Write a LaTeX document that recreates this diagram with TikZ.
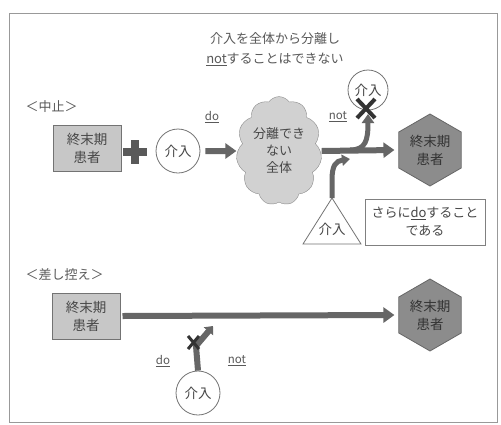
\documentclass[tikz,border=0pt]{standalone}
\usepackage{fontspec}
\setmainfont{Noto Sans CJK JP}
\usetikzlibrary{shapes.geometric,shapes.symbols,arrows.meta}
\begin{document}
\begin{tikzpicture}[x=1pt,y=-1pt,
  lbl/.style={text=black!65,font=\fontsize{11.5}{15}\selectfont,align=center},
  ttl/.style={text=black!65,font=\fontsize{13}{20}\selectfont,align=center},
  body/.style={text=black!72,font=\fontsize{13.5}{18}\selectfont,align=center},
  patbox/.style={body,draw=black!55,fill=black!22,line width=1pt,minimum width=68pt,minimum height=46pt,inner sep=1pt},
  hexa/.style={body,text=black!80,regular polygon,regular polygon sides=6,shape border rotate=30,minimum size=72pt,inner sep=0pt,draw=black!60,fill=black!45,line width=0.8pt},
  ring/.style={body,circle,draw=black!55,line width=0.8pt,minimum size=44pt,inner sep=0pt},
  bigarrow/.style={draw=black!60,line width=6pt,-{Triangle[width=15pt,length=11pt]}},
  midarrow/.style={draw=black!60,line width=5pt,-{Triangle[width=12pt,length=9pt]}},
  xmark/.style={draw=black!80,line width=4pt}
]
\useasboundingbox (0,0) rectangle (501,424);
\fill[white] (0,0) rectangle (501,424);
\draw[black!40,line width=1pt] (9,13) rectangle (497,422);

% title
\node[ttl] (title) at (275,49) {介入を全体から分離し\\\underline{not}することはできない};

% ---- upper part
\node[ttl,anchor=west] (stop) at (22,107) {＜中止＞};
\node[patbox] (p1) at (87,148) {終末期\\患者};
\draw[black!65,line width=8pt] (123,152) -- (147,152) (135,140) -- (135,164);
\node[ring] (c1) at (178,151) {介入};
\node[lbl] (do1) at (212,117) {\underline{do}};
\node[body,font=\fontsize{13}{17}\selectfont,cloud,cloud puffs=11,cloud puff arc=110,aspect=0.72,minimum width=64pt,minimum height=88pt,inner sep=0pt,draw=black!45,fill=black!18] (cloud) at (279,151) {分離でき\\ない\\全体};
\draw[bigarrow] ([xshift=5pt]c1.east) -- ([xshift=-1pt]cloud.west);
\node[hexa] (h1) at (430,150) {終末期\\患者};
\draw[bigarrow] ([xshift=1pt]cloud.east) -- ([xshift=-4pt]h1.west);
\node[lbl] (not1) at (338,117) {\underline{not}};
\node[ring,minimum size=40pt] (c2) at (368,90) {介入};
\coordinate (br) at (350,150);
\draw[midarrow] (br) .. controls (366,150) and (368,140) .. (368,114);
\draw[xmark] (357,99) -- (375,118) (375,99) -- (357,118);
% triangle
\coordinate (tA) at (332,198);
\draw[black!55,line width=0.8pt] (tA) -- (361,244) -- (303,244) -- cycle;
\node[body] (tri) at (332,229) {介入};
\coordinate (bj) at (350,159);
\draw[draw=black!60,line width=5pt,-{Triangle[width=11pt,length=8pt]}] (tA) -- (332,180) .. controls (332,165) and (336,161) .. (bj);
\node[body,font=\fontsize{13}{18}\selectfont,draw=black!50,line width=0.8pt,minimum width=120pt,minimum height=46pt,inner sep=1pt] (note) at (425,222) {さらに\underline{do}すること\\である};

% ---- lower part
\node[ttl,anchor=west] (hold) at (22,275) {＜差し控え＞};
\node[patbox] (p2) at (86,316) {終末期\\患者};
\node[hexa] (h2) at (430,315) {終末期\\患者};
\draw[bigarrow] ([xshift=2pt]p2.east) -- ([xshift=-4pt]h2.west);
\node[ring] (c3) at (198,393) {介入};
\node[lbl] (do2) at (163,361) {\underline{do}};
\node[lbl] (not2) at (237,361) {\underline{not}};
\coordinate (lb) at (213,326);
\draw[draw=black!60,line width=6pt,-{Triangle[width=12pt,length=7pt]}] (c3.north) -- (196,346) -- (lb);
\draw[draw=black!80,line width=3pt] (188,336) -- (199,349) (199,336) -- (188,349);
\end{tikzpicture}
\end{document}
